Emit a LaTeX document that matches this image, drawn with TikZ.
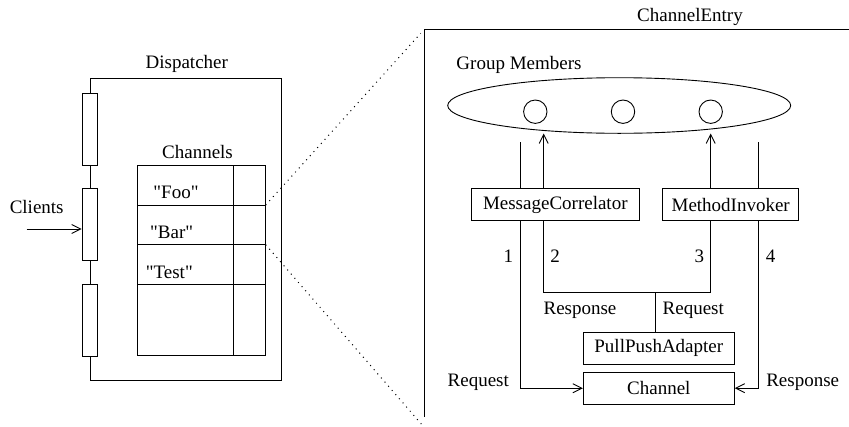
\documentclass[tikz,border=0pt]{standalone}
\usepackage{fontspec}
\setmainfont{Liberation Serif}
\newfontfamily\qfont{Liberation Serif}
\usetikzlibrary{shapes.geometric,arrows.meta}
\begin{document}
\begin{tikzpicture}[x=1pt,y=-1pt,line width=0.9pt,
  font=\fontsize{19}{22}\selectfont,
  lbl/.style={inner sep=0pt},
  port/.style={draw,rectangle,inner sep=0pt,minimum width=15.7pt,minimum height=72pt,fill=white},
  box/.style={draw,rectangle,inner sep=0pt,minimum height=32pt},
  member/.style={draw,circle,inner sep=0pt,minimum size=23.4pt},
  arr/.style={-{Straight Barb[length=9pt,width=9pt,line width=0.9pt]}},
  dots/.style={line width=1pt,dash pattern=on 1pt off 4.5pt}]
\useasboundingbox (0,0) rectangle (849,426);

% ---------- Dispatcher ----------
\coordinate (dtl) at (90,78.3);
\coordinate (dbr) at (281,380.7);
\draw (dtl) rectangle (dbr);
\node[lbl] (disp) at (186.8,64) {Dispatcher};
\node[port] (p1) at (90,129.3) {};
\node[port] (p2) at (90,224.7) {};
\node[port] (p3) at (90,320) {};
\node[lbl] (clients) at (36.7,207) {Clients};
\coordinate (cl) at (26.7,229);
\draw[arr] (cl) -- (p2.west |- cl);

% Channels table
\coordinate (ttl) at (137.7,165.3);
\coordinate (tbr) at (265.7,355.7);
\draw (ttl) rectangle (tbr);
\draw (233.3,165.3) -- (233.3,355.7);
\coordinate (r1) at (265.7,205);
\coordinate (r2) at (265.7,244.7);
\coordinate (r3) at (265.7,284.3);
\draw (137.7,205) -- (r1);
\draw (137.7,244.7) -- (r2);
\draw (137.7,284.3) -- (r3);
\node[lbl] (chs) at (197.5,152) {Channels};
\node[lbl] (foo) at (176,192) {\qfont "Foo"};
\node[lbl] (bar) at (171.7,232.5) {\qfont "Bar"};
\node[lbl] (test) at (169.3,272) {\qfont "Test"};

% ---------- ChannelEntry ----------
\coordinate (etl) at (424,29.3);
\coordinate (etr) at (849,29.3);
\coordinate (ebl) at (424,417);
\draw (etr) -- (etl) -- (ebl);
\node[lbl] (centry) at (690,17) {ChannelEntry};
\coordinate (d1) at (420.7,33.3);
\coordinate (d2) at (421.3,424);
\draw[dots] (r1) -- (d1);
\draw[dots] (r2) -- (d2);

\node[lbl] (gm) at (519,65) {Group Members};
\node[draw,ellipse,inner sep=0pt,minimum width=343pt,minimum height=55.6pt] (grp) at (619.2,105.5) {};
\node[member] (m1) at (535.3,111.7) {};
\node[member] (m2) at (623,111.7) {};
\node[member] (m3) at (710.7,111.7) {};

\node[box,minimum width=167.3pt] (mc) at (555.3,204.7) {MessageCorrelator};
\node[box,minimum width=136pt] (mi) at (730.7,204.7) {MethodInvoker};
\node[box,minimum width=151pt] (pp) at (658.8,348.3) {PullPushAdapter};
\node[box,minimum width=151pt,minimum height=31.7pt] (ch) at (658.8,388.2) {Channel};

\coordinate (ta) at (520,141.7);
\coordinate (tb) at (543.7,133.5);
\coordinate (tc) at (710.7,133.5);
\coordinate (td) at (758.7,141.7);
\draw (mc.north -| ta) -- (ta);
\draw[arr] (mc.north -| tb) -- (tb);
\draw[arr] (mi.north -| tc) -- (tc);
\draw (mi.north -| td) -- (td);

\coordinate (jl) at (543.7,292);
\coordinate (jr) at (710.7,292);
\coordinate (jm) at (655.3,292);
\draw (mc.south -| jl) -- (jl) -- (jr) -- (mi.south -| jr);
\draw (jm) -- (pp.north -| jm);
\draw[arr] (mc.south -| ta) |- (ch.west);
\draw[arr] (mi.south -| td) |- (ch.east);

\node[lbl] (n1) at (508.3,256) {1};
\node[lbl] (n2) at (555,256) {2};
\node[lbl] (n3) at (699.3,256) {3};
\node[lbl] (n4) at (770.7,256) {4};
\node[lbl] (resp1) at (580,310) {Response};
\node[lbl] (req1) at (693.3,310) {Request};
\node[lbl] (req2) at (478.3,382.5) {Request};
\node[lbl] (resp2) at (802.7,382.5) {Response};
\end{tikzpicture}
\end{document}
